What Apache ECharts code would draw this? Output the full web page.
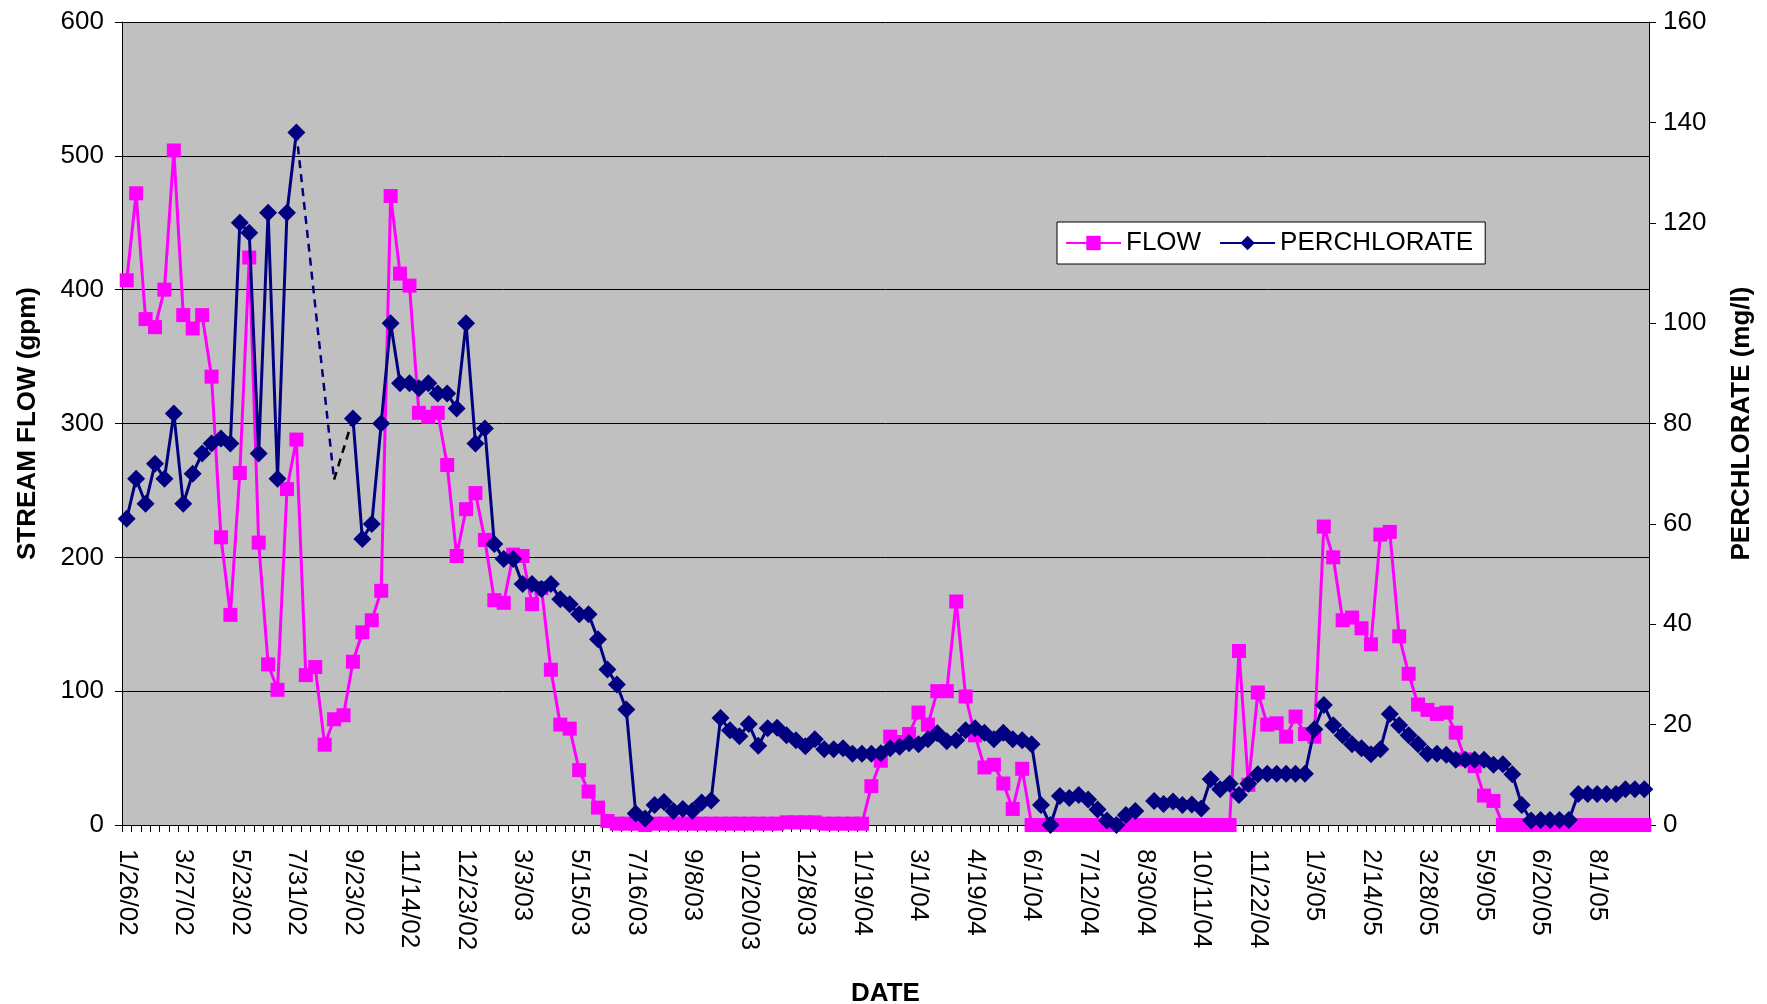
<!DOCTYPE html>
<html>
<head>
<meta charset="utf-8">
<script src="https://cdn.jsdelivr.net/npm/echarts@6/dist/echarts.min.js"></script>
<style>
html,body{margin:0;padding:0;background:#fff;}
#chart{width:1767px;height:1004px;}
</style>
</head>
<body>
<div id="chart"></div>
<script>
// Tick labels shown on the date axis (every 6th category)
const tickLabels = ['1/26/02','3/27/02','5/23/02','7/31/02','9/23/02','11/14/02','12/23/02','3/3/03','5/15/03','7/16/03','9/8/03','10/20/03','12/8/03','1/19/04','3/1/04','4/19/04','6/1/04','7/12/04','8/30/04','10/11/04','11/22/04','1/3/05','2/14/05','3/28/05','5/9/05','6/20/05','8/1/05'];
const samplesPerLabel = 6;
const sampleCount = 162;

// Stream flow (gpm), one value per sample
const flow = [
407,472,378,372,400,504,381,371,381,335,
215,157,263,424,211,120,101,251,288,112,
118,60,79,82,122,144,153,175,470,412,
403,308,305,308,269,201,236,248,213,168,
166,202,201,165,177,116,75,72,41,25,
13,3,1,1,1,0,1,1,1,1,
1,1,1,1,1,1,1,1,1,1,
2,2,2,2,1,1,1,1,1,29,
48,66,62,68,84,75,100,100,167,96,
67,43,45,31,12,42,0,0,0,0,
0,0,0,0,0,0,0,0,0,0,
0,0,0,0,0,0,0,0,130,30,
99,75,76,66,81,68,66,223,200,153,
155,147,135,217,219,141,113,90,86,83,
84,69,49,44,22,18,0,0,0,0,
0,0,0,0,0,0,0,0,0,0,
0,0
];

// Perchlorate (mg/l), one value per sample (null = no sample)
const perchlorate = [
61,69,64,72,69,82,64,70,74,76,
77,76,120,118,74,122,69,122,138,null,
null,null,null,null,81,57,60,80,100,88,
88,87,88,86,86,83,100,76,79,56,
53,53,48,48,47,48,45,44,42,42,
37,31,28,23,2.3,1.3,4,4.6,2.8,3.2,
2.8,4.5,4.9,21.3,18.9,17.7,20.1,15.8,19.3,19.4,
17.9,16.9,15.7,17.1,15.1,15.1,15.3,14.2,14.2,14.2,
14.3,15.3,15.6,16.3,16.1,17.1,18.3,16.7,16.9,18.9,
19.3,18.4,17.1,18.4,17.1,16.9,16.1,4,0,5.8,
5.4,6,5.1,3.1,0.9,0,2,2.8,null,4.8,
4.2,4.7,4,4.1,3.3,9.1,7.1,8.2,6,8.2,
10.1,10.2,10.2,10.2,10.2,10.2,19.1,23.9,19.9,17.9,
16.1,15.3,14.1,15.1,22.1,19.9,17.9,16.1,14.2,14.2,
14,13,13,13,13,12,12.1,10.1,4,0.9,
1,1,1,1,6.2,6.2,6.2,6.2,6.2,7.1,
7.1,7.1
];

// Dashed connector segments across the missing perchlorate samples
const gapNavyIdx = [18, 22];
const gapNavyVal = [138, 68.8];
const gapBlackIdx = [22, 24];
const gapBlackVal = [68.8, 81];

const categories = [];
for (let i = 0; i < sampleCount; i++) {
  categories.push(i % samplesPerLabel === 0 ? tickLabels[i / samplesPerLabel] : '');
}

const FONT = '"Liberation Sans", Arial, sans-serif';
const chart = echarts.init(document.getElementById('chart'), null, {renderer: 'canvas'});
chart.setOption({
  animation: false,
  backgroundColor: '#ffffff',
  textStyle: {fontFamily: FONT, color: '#000'},
  grid: {left: 122, right: 118, top: 22, bottom: 179, show: true, backgroundColor: '#C0C0C0', borderWidth: 0,
         containLabel: false, outerBoundsMode: 'none'},
  legend: {
    left: 1057, top: 222,
    data: ['FLOW', 'PERCHLORATE'],
    backgroundColor: '#ffffff', borderColor: '#000', borderWidth: 1, borderRadius: 0,
    padding: [8, 12, 8, 8],
    itemWidth: 55, itemHeight: 18, itemGap: 18,
    textStyle: {fontSize: 26, fontFamily: FONT, color: '#000'}
  },
  xAxis: {
    type: 'category', data: categories, boundaryGap: true,
    axisLine: {show: true, lineStyle: {color: '#000', width: 1}},
    axisTick: {show: true, interval: 0, length: 7, lineStyle: {color: '#000', width: 1}},
    axisLabel: {interval: samplesPerLabel - 1, rotate: -90, fontSize: 26, fontFamily: FONT, color: '#000', margin: 24},
    splitLine: {show: false},
    name: 'DATE', nameLocation: 'middle', nameGap: 156,
    nameTextStyle: {fontSize: 26, fontWeight: 'bold', fontFamily: FONT, color: '#000'}
  },
  yAxis: [
    {
      type: 'value', min: 0, max: 600, interval: 100, position: 'left',
      axisLine: {show: true, lineStyle: {color: '#000', width: 1}},
      axisTick: {show: true, length: 7, lineStyle: {color: '#000'}},
      axisLabel: {fontSize: 26, fontFamily: FONT, color: '#000', margin: 18},
      splitLine: {show: true, lineStyle: {color: '#000', width: 1}},
      name: 'STREAM FLOW (gpm)', nameLocation: 'middle', nameGap: 81, nameRotate: 90,
      nameTextStyle: {fontSize: 26, fontWeight: 'bold', fontFamily: FONT, color: '#000'}
    },
    {
      type: 'value', min: 0, max: 160, interval: 20, position: 'right',
      axisLine: {show: true, lineStyle: {color: '#000', width: 1}},
      axisTick: {show: true, length: 7, lineStyle: {color: '#000'}},
      axisLabel: {fontSize: 26, fontFamily: FONT, color: '#000', margin: 14},
      splitLine: {show: false},
      name: 'PERCHLORATE (mg/l)', nameLocation: 'middle', nameGap: 80, nameRotate: 90,
      nameTextStyle: {fontSize: 26, fontWeight: 'bold', fontFamily: FONT, color: '#000'}
    }
  ],
  series: [
    {
      name: 'FLOW', type: 'line', yAxisIndex: 0, data: flow, clip: false,
      symbol: 'rect', symbolSize: 14, showAllSymbol: true,
      lineStyle: {color: '#FF00FF', width: 3},
      itemStyle: {color: '#FF00FF'},
      z: 2
    },
    {
      name: 'gapNavy', type: 'line', yAxisIndex: 1, clip: false,
      data: gapNavyIdx.map((x, k) => [x, gapNavyVal[k]]),
      symbol: 'none', lineStyle: {color: '#000080', width: 2.5, type: [8, 6]},
      z: 3, silent: true
    },
    {
      name: 'gapBlack', type: 'line', yAxisIndex: 1, clip: false,
      data: gapBlackIdx.map((x, k) => [x, gapBlackVal[k]]),
      symbol: 'none', lineStyle: {color: '#000000', width: 2.5, type: [8, 6]},
      z: 3, silent: true
    },
    {
      name: 'PERCHLORATE', type: 'line', yAxisIndex: 1, data: perchlorate, clip: false,
      symbol: 'diamond', symbolSize: 18, showAllSymbol: true, connectNulls: false,
      lineStyle: {color: '#000080', width: 3},
      itemStyle: {color: '#000080'},
      z: 4
    }
  ]
});
</script>
</body>
</html>
